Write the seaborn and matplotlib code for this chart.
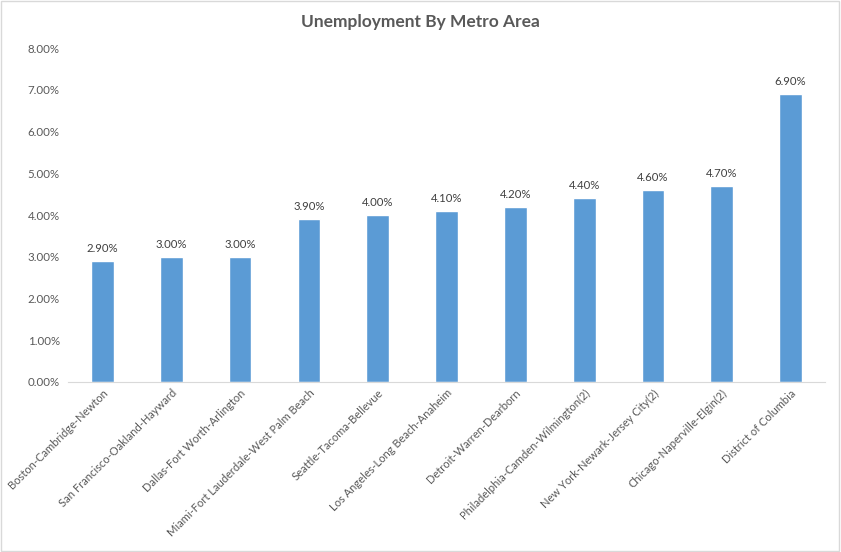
import matplotlib
matplotlib.use("Agg")
import matplotlib.pyplot as plt
import seaborn as sns
import pandas as pd
from matplotlib.ticker import PercentFormatter
from matplotlib.patches import Rectangle

metros = [
    "Boston-Cambridge-Newton",
    "San Francisco-Oakland-Hayward",
    "Dallas-Fort Worth-Arlington",
    "Miami-Fort Lauderdale-West Palm Beach",
    "Seattle-Tacoma-Bellevue",
    "Los Angeles-Long Beach-Anaheim",
    "Detroit-Warren-Dearborn",
    "Philadelphia-Camden-Wilmington(2)",
    "New York-Newark-Jersey City(2)",
    "Chicago-Naperville-Elgin(2)",
    "District of Columbia",
]
rates = [2.9, 3.0, 3.0, 3.9, 4.0, 4.1, 4.2, 4.4, 4.6, 4.7, 6.9]

df = pd.DataFrame({"metro": metros, "rate": rates})

sns.set_style("white")
plt.rcParams["font.family"] = ["Lato", "DejaVu Sans"]

fig = plt.figure(figsize=(8.41, 5.52), dpi=100)
ax = fig.add_axes([0.081, 0.308, 0.900, 0.605])

sns.barplot(data=df, x="metro", y="rate", color="#5B9BD5", width=0.33,
            saturation=1, ax=ax)

txt = "#595959"
for p, v in zip(ax.patches, rates):
    ax.annotate(f"{v:.2f}%", (p.get_x() + p.get_width() / 2, v),
                xytext=(0, 5), textcoords="offset points",
                ha="center", va="bottom", fontsize=8.2, color="#404040")

ax.set_ylim(0, 8)
ax.set_yticks(range(0, 9))
ax.yaxis.set_major_formatter(PercentFormatter(decimals=2))
ax.set_xlabel("")
ax.set_ylabel("")
ax.tick_params(axis="y", labelsize=8.3, labelcolor=txt, length=0, pad=6)
ax.tick_params(axis="x", labelsize=8, labelcolor=txt, length=0, pad=4)
plt.setp(ax.get_xticklabels(), rotation=45, ha="right", rotation_mode="anchor")

for s in ["top", "right", "left"]:
    ax.spines[s].set_visible(False)
ax.spines["bottom"].set_color("#D9D9D9")

fig.text(0.5, 0.96, "Unemployment By Metro Area", ha="center", va="center",
         fontsize=12.5, fontweight="bold", color=txt)

fig.patches.append(Rectangle((0.001, 0.001), 0.997, 0.997, transform=fig.transFigure,
                             fill=False, edgecolor="#D9D9D9", linewidth=1))

fig.savefig("out.png", dpi=100)
